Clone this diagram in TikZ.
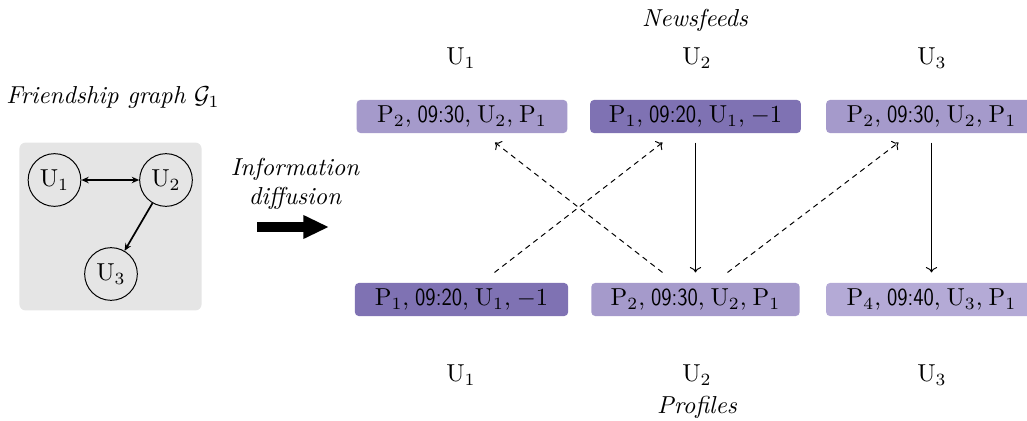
\documentclass[tikz,border=0pt]{standalone}
\usetikzlibrary{arrows.meta}
\definecolor{boxdark}{HTML}{7F72B3}
\definecolor{boxmid}{HTML}{A59ACB}
\definecolor{boxlight}{HTML}{B4AAD6}
\definecolor{graphbg}{HTML}{E5E5E5}
% condensed sans for the time stamps
\newcommand{\tm}[1]{\scalebox{0.84}[1]{\sffamily #1}}
% tight separator between post fields
\newcommand{\sep}{,\hspace{2.4pt}}
\tikzset{
  post/.style={rectangle, rounded corners=1.6pt, minimum width=86pt,
    minimum height=13.5pt, inner sep=0pt, text=black},
  user/.style={circle, draw, thin, minimum size=21.5pt, inner sep=0pt},
  caption/.style={font=\itshape},
  friend/.style={line width=0.7pt, -{Stealth[length=3pt,width=2.6pt]}},
  flow/.style={thin, -{To[length=2.2pt]}, shorten <=0pt, shorten >=0pt},
  share/.style={flow, dash pattern=on 2.2pt off 1.8pt},
}
\begin{document}
\begin{tikzpicture}[x=0.408pt, y=-0.408pt]
\useasboundingbox (0,0) rectangle (1027,421);

% friendship graph
\node[caption] (gtitle) at (113,98) {Friendship graph $\mathcal{G}_1$};
\node[fill=graphbg, rounded corners=2.5pt, minimum width=74.3pt,
      minimum height=68.5pt, inner sep=0pt] (gbox) at (110.5,226.5) {};
\node[user] (g1) at (54.5,180) {$\mathrm{U}_1$};
\node[user] (g2) at (166,180) {$\mathrm{U}_2$};
\node[user] (g3) at (111,274) {$\mathrm{U}_3$};
\draw[friend, {Stealth[length=3pt,width=2.6pt]}-{Stealth[length=3pt,width=2.6pt]}] (g1) -- (g2);
\draw[friend] (g2) -- (g3);

% diffusion step
\node[caption, align=center] (diff) at (295,184) {Information\\diffusion};
\coordinate (da) at (257,227);
\coordinate (db) at (329,227);
\draw[line width=4.1pt, -{Triangle[length=10.5pt 0 0,width=9pt 0 0]}] (da) -- (db);

% newsfeeds
\node[caption] (nf) at (695,20) {Newsfeeds};
\node (nu1) at (461,58) {$\mathrm{U}_1$};
\node (nu2) at (697,58) {$\mathrm{U}_2$};
\node (nu3) at (932,58) {$\mathrm{U}_3$};
\node[post, fill=boxmid]  (t1) at (462,116.5) {$\mathrm{P}_2$\sep\tm{09:30}\sep$\mathrm{U}_2$\sep$\mathrm{P}_1$};
\node[post, fill=boxdark] (t2) at (695.5,116.5) {$\mathrm{P}_1$\sep\tm{09:20}\sep$\mathrm{U}_1$\sep$-1$};
\node[post, fill=boxmid]  (t3) at (931.5,116.5) {$\mathrm{P}_2$\sep\tm{09:30}\sep$\mathrm{U}_2$\sep$\mathrm{P}_1$};

% profiles
\node[post, fill=boxdark, minimum width=87pt] (b1) at (461.5,299.5) {$\mathrm{P}_1$\sep\tm{09:20}\sep$\mathrm{U}_1$\sep$-1$};
\node[post, fill=boxmid, minimum width=85pt]  (b2) at (695.5,299.5) {$\mathrm{P}_2$\sep\tm{09:30}\sep$\mathrm{U}_2$\sep$\mathrm{P}_1$};
\node[post, fill=boxlight] (b3) at (931.5,299.5) {$\mathrm{P}_4$\sep\tm{09:40}\sep$\mathrm{U}_3$\sep$\mathrm{P}_1$};
\node (pu1) at (461,375) {$\mathrm{U}_1$};
\node (pu2) at (697,375) {$\mathrm{U}_2$};
\node (pu3) at (932,375) {$\mathrm{U}_3$};
\node[caption] (pf) at (697,407) {Profiles};

% propagation between profiles and newsfeeds
\draw[flow] ([shift={(0,9)}]t2.south) -- ([shift={(0,-10)}]b2.north);
\draw[flow] ([shift={(0,9)}]t3.south) -- ([shift={(0,-10)}]b3.north);
\draw[share] ([shift={(33,-10)}]b1.north) -- ([shift={(-33,9)}]t2.south);
\draw[share] ([shift={(-33,-10)}]b2.north) -- ([shift={(33,9)}]t1.south);
\draw[share] ([shift={(32,-10)}]b2.north) -- ([shift={(-33,9)}]t3.south);
\end{tikzpicture}
\end{document}
